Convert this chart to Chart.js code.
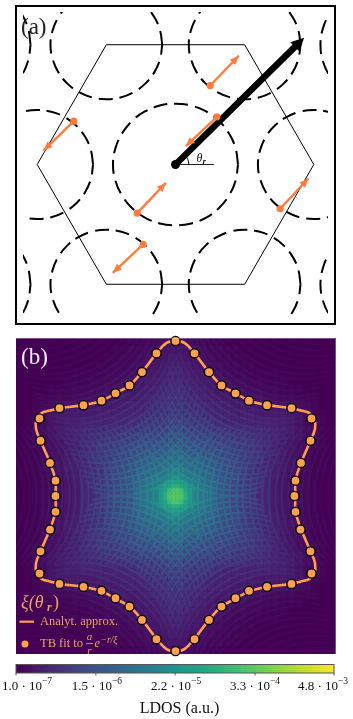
<!DOCTYPE html>
<html>
<head>
<meta charset="utf-8">
<title>LDOS</title>
<script src="https://cdn.jsdelivr.net/npm/chart.js@4/dist/chart.umd.js"></script>
<style>
html, body { margin: 0; padding: 0; background: #fff; }
body { width: 353px; height: 719px; position: relative; overflow: hidden; }
canvas { position: absolute; left: 0; }
#panelA { top: 0; }
#panelB { top: 330px; }
#colorbar { top: 660px; }
</style>
</head>
<body>
<canvas id="panelA" width="353" height="330"></canvas>
<canvas id="panelB" width="353" height="330"></canvas>
<canvas id="colorbar" width="353" height="59"></canvas>
<script>
// panel (a), units of the hexagon radius
const hexX = [-0.5, 0.5, 1, 0.5, -0.5, -1, -0.5];
const hexY = [0.866, 0.866, 0, -0.866, -0.866, 0, 0.866];
const kCentersX = [1, 0.5, -0.5, -1, -0.5, 0.5];
const kCentersY = [0, 0.866, 0.866, 0, -0.866, -0.866];
const gammaCentersX = [0, 1.5, -1.5, -1.5, 1.5];
const gammaCentersY = [0, 0.866, 0.866, -0.866, -0.866];
const ringAngles = [0, 15, 30, 45, 60, 75, 90, 105, 120, 135, 150, 165, 180, 195, 210, 225, 240, 255, 270, 285, 300, 315, 330, 345, 360];
const gammaRadius = [0.452, 0.450, 0.447, 0.445, 0.443, 0.441, 0.440, 0.441, 0.443, 0.445, 0.447, 0.450, 0.452, 0.450, 0.447, 0.445, 0.443, 0.441, 0.440, 0.441, 0.443, 0.445, 0.447, 0.450, 0.452];
const kRadius = [0.404, 0.402, 0.400, 0.398, 0.396, 0.395, 0.394, 0.395, 0.396, 0.398, 0.400, 0.402, 0.404, 0.402, 0.400, 0.398, 0.396, 0.395, 0.394, 0.395, 0.396, 0.398, 0.400, 0.402, 0.404];
const arrowTailX = [0.251, 0.299, -0.735, -0.277, 0.757, -0.234];
const arrowTailY = [0.571, 0.345, 0.313, -0.352, -0.320, -0.578];
const arrowTipX = [0.458, 0.075, -0.954, -0.070, 0.961, -0.453];
const arrowTipY = [0.786, 0.133, 0.101, -0.133, -0.101, -0.783];
const bigArrowX = [0, 0.885];
const bigArrowY = [0, 0.872];
const bigTip = [0.930, 0.916];
const angleLineX = [0, 0.277];
const angleLineY = [0, 0];
const angleArcDeg = [0, 11, 22, 33, 45];
const angleArcRadius = 0.096;

// panel (b), image pixels from the centre of the star
const curveX = [0, -9, -19, -33.5, -46, -60, -74, -92, -116, -125.5, -134, -139, -139.5, -135, -125.5, -120, -120,
  -120, -125.5, -135, -139.5, -139, -134, -125.5, -116, -92, -74, -60, -46, -33.5, -19, -9, 0,
  9, 19, 33.5, 46, 60, 74, 92, 116, 125.5, 134, 139, 139.5, 135, 125.5, 120, 120,
  120, 125.5, 135, 139.5, 139, 134, 125.5, 116, 92, 74, 60, 46, 33.5, 19, 9, 0];
const curveY = [157, 155, 144.5, 125.5, 112, 104, 96.5, 92, 89, 86.5, 84, 78, 68, 56, 33.5, 15.5, 0,
  -15.5, -33.5, -56, -68, -78, -84, -86.5, -89, -92, -96.5, -104, -112, -125.5, -144.5, -155, -157,
  -155, -144.5, -125.5, -112, -104, -96.5, -92, -89, -86.5, -84, -78, -68, -56, -33.5, -15.5, 0,
  15.5, 33.5, 56, 68, 78, 84, 86.5, 89, 92, 96.5, 104, 112, 125.5, 144.5, 155, 157];
const fitX = [0, -19, -33.5, -46, -60, -74, -92, -116, -136, -135, -125.5, -120, -120, -120, -125.5, -135, -136, -116, -92, -74, -60, -46, -33.5, -19, 0,
  19, 33.5, 46, 60, 73.5, 91.5, 116, 136, 135, 125, 120, 119, 120, 125.5, 135, 136, 116, 91.5, 73.5, 60, 46, 33.5, 19];
const fitY = [157, 144.5, 125.5, 112, 104, 96.5, 92, 89, 78.5, 56, 33.5, 15.5, 0, -16, -34, -56, -78.5, -89, -92, -96, -103.5, -112, -125.5, -145, -157,
  -145, -125.5, -112, -103.5, -96, -92, -89, -78.5, -56, -34, -16, 0, 15.5, 33.5, 56, 78.5, 89, 92, 96.5, 104, 112, 125.5, 144.5];

// LDOS colour level in percent of the colour bar, upper left quadrant, 8 px cells
const ldosQuadrant = [
  [0, 0, 0, 0, 0, 0, 0, 0, 0, 0, 0, 0, 0, 0, 1, 1, 2, 2, 3, 4],
  [0, 0, 0, 0, 0, 0, 0, 0, 0, 0, 0, 0, 1, 1, 2, 2, 3, 4, 5, 6],
  [0, 0, 0, 0, 0, 0, 0, 0, 0, 0, 0, 1, 1, 2, 2, 3, 4, 5, 6, 7],
  [0, 0, 0, 0, 0, 0, 0, 0, 0, 0, 1, 1, 2, 2, 3, 4, 5, 6, 7, 8],
  [0, 0, 0, 0, 0, 0, 0, 1, 1, 1, 1, 2, 2, 3, 4, 5, 6, 7, 8, 9],
  [0, 0, 0, 0, 0, 0, 1, 1, 1, 2, 2, 3, 3, 4, 5, 6, 7, 8, 9, 10],
  [0, 0, 0, 0, 1, 1, 1, 2, 2, 3, 3, 4, 4, 5, 6, 7, 8, 9, 10, 11],
  [0, 0, 1, 1, 1, 2, 2, 3, 3, 4, 4, 5, 6, 7, 7, 8, 9, 10, 11, 12],
  [0, 0, 1, 2, 3, 4, 5, 5, 6, 6, 6, 7, 7, 8, 9, 9, 10, 11, 12, 13],
  [0, 1, 1, 3, 5, 7, 7, 7, 7, 7, 8, 8, 8, 9, 10, 10, 11, 12, 13, 14],
  [0, 1, 2, 3, 5, 7, 8, 8, 9, 9, 9, 9, 10, 10, 11, 12, 13, 14, 15, 16],
  [0, 1, 2, 3, 5, 7, 8, 9, 10, 11, 11, 11, 12, 12, 13, 14, 15, 16, 17, 19],
  [0, 1, 2, 3, 5, 7, 8, 9, 11, 12, 13, 14, 14, 15, 16, 17, 18, 19, 20, 22],
  [0, 1, 2, 3, 4, 6, 7, 9, 11, 13, 15, 16, 17, 18, 19, 20, 21, 23, 24, 26],
  [0, 1, 1, 2, 4, 5, 7, 9, 11, 13, 15, 17, 18, 20, 21, 23, 24, 26, 28, 30],
  [0, 1, 1, 2, 3, 5, 7, 9, 10, 13, 15, 17, 19, 21, 23, 25, 27, 30, 32, 34],
  [0, 1, 1, 2, 3, 5, 7, 8, 10, 12, 14, 17, 20, 22, 25, 27, 30, 33, 36, 38],
  [0, 0, 1, 2, 3, 4, 6, 8, 10, 12, 14, 17, 20, 23, 26, 29, 32, 36, 38, 40],
  [0, 0, 1, 2, 3, 4, 6, 7, 10, 12, 14, 17, 20, 23, 26, 30, 34, 38, 40, 42],
  [0, 0, 1, 2, 3, 4, 6, 7, 10, 11, 14, 17, 20, 23, 26, 30, 34, 38, 40, 42]
];
const cellSize = 8;
// finer read of the bright core, 4 px cells, same quadrant
const ldosCore = [
  [26, 27, 28, 29, 30, 30, 31, 32, 33, 34],
  [27, 28, 29, 30, 31, 32, 32, 33, 34, 36],
  [28, 29, 30, 31, 32, 33, 34, 35, 36, 38],
  [29, 30, 31, 32, 34, 35, 36, 37, 38, 40],
  [30, 31, 32, 34, 35, 37, 38, 40, 41, 44],
  [31, 32, 33, 35, 37, 39, 41, 43, 46, 50],
  [32, 33, 35, 37, 39, 41, 44, 48, 52, 56],
  [32, 34, 36, 38, 41, 44, 50, 56, 58, 62],
  [33, 35, 37, 39, 42, 46, 52, 58, 68, 72],
  [33, 35, 37, 40, 43, 46, 54, 62, 72, 74]
];
const coreCellSize = 4;
// ripple arcs: distance of each arc from the centre, and the shape one arc has
const fringeStart = [16, 22, 28, 35, 41, 48, 54, 61, 67, 74, 80, 87, 93, 100, 106, 113, 119, 126, 132, 139, 145, 152, 158, 165, 172, 179, 186, 193];
const fringeAlong = [-70, -56, -42, -28, -14, 0, 14, 28, 42, 56, 70];
const fringeBow = [29, 17, 9, 4, 1, 0, 1, 4, 9, 17, 29];
const fringeAngles = [0, 60, 120, 180, 240, 300];
const stripeX = [-7, -3.5, 0, 3.5, 7];
const stripeEnd = 157;

// colour bar
const viridisStops = ['#440154', '#482475', '#414487', '#355f8d', '#2a788e', '#21918c', '#22a884', '#44bf70', '#7ad151', '#bddf26', '#fde725'];
const cbarTicks = [1e-7, 1.5e-6, 2.2e-5, 3.3e-4, 4.8e-3];
const cbarMantissa = ['1.0', '1.5', '2.2', '3.3', '4.8'];
const cbarExponent = ['\u22127', '\u22126', '\u22125', '\u22124', '\u22123'];
const cbarLabelShift = [11, 1, 1, 0, -11];

const SERIF = '"Liberation Serif", "DejaVu Serif", serif';
const ORANGE = '#ff7b3d';
const CURVE_ORANGE = '#ffa04f';
const LEGEND_ORANGE = '#eca263';

function zip(xs, ys) {
  return xs.map((x, i) => ({ x: x, y: ys[i] }));
}

function ring(cx, cy, radii) {
  return ringAngles.map((deg, i) => ({
    x: cx + radii[i] * Math.cos(deg * Math.PI / 180),
    y: cy + radii[i] * Math.sin(deg * Math.PI / 180)
  }));
}

function hexToRgb(hex) {
  return [1, 3, 5].map(i => parseInt(hex.substr(i, 2), 16));
}

function viridis(percent) {
  const pos = Math.min(percent, 100) / 100 * (viridisStops.length - 1);
  const i = Math.min(Math.floor(pos), viridisStops.length - 2);
  const a = hexToRgb(viridisStops[i]);
  const b = hexToRgb(viridisStops[i + 1]);
  const c = a.map((v, k) => Math.round(v + (b[k] - v) * (pos - i)));
  return `rgb(${c[0]},${c[1]},${c[2]})`;
}

function label(ctx, str, x, y, font, color, align) {
  ctx.font = font;
  ctx.fillStyle = color;
  ctx.textAlign = align || 'left';
  ctx.textBaseline = 'alphabetic';
  ctx.fillText(str, x, y);
}

function arrowHead(ctx, x0, y0, x1, y1, len, half, color) {
  const a = Math.atan2(y1 - y0, x1 - x0);
  ctx.fillStyle = color;
  ctx.beginPath();
  ctx.moveTo(x1, y1);
  ctx.lineTo(x1 - len * Math.cos(a) - half * Math.sin(a), y1 - len * Math.sin(a) + half * Math.cos(a));
  ctx.lineTo(x1 - len * Math.cos(a) + half * Math.sin(a), y1 - len * Math.sin(a) - half * Math.cos(a));
  ctx.closePath();
  ctx.fill();
}

const hiddenAxes = (xMin, xMax, yMin, yMax) => ({
  x: { type: 'linear', display: false, min: xMin, max: xMax },
  y: { type: 'linear', display: false, min: yMin, max: yMax }
});

// ---------- panel (a), first dataset is painted last
const panelADatasets = [];
panelADatasets.push({ data: zip(arrowTailX, arrowTailY), pointRadius: 3.6, pointBackgroundColor: ORANGE, pointBorderWidth: 0 });
arrowTailX.forEach((x, i) => {
  panelADatasets.push({ data: [{ x: x, y: arrowTailY[i] }, { x: arrowTipX[i], y: arrowTipY[i] }], showLine: true,
    pointRadius: 0, borderColor: ORANGE, borderWidth: 2.4 });
});
panelADatasets.push({ data: [{ x: 0, y: 0 }], pointRadius: 4.5, pointBackgroundColor: '#000', pointBorderWidth: 0 });
panelADatasets.push({ data: zip(bigArrowX, bigArrowY), showLine: true, pointRadius: 0, borderColor: '#000', borderWidth: 6.5, borderCapStyle: 'round' });
panelADatasets.push({
  data: angleArcDeg.map(deg => ({ x: angleArcRadius * Math.cos(deg * Math.PI / 180), y: angleArcRadius * Math.sin(deg * Math.PI / 180) })),
  showLine: true, tension: 0.4, pointRadius: 0, borderColor: '#000', borderWidth: 1
});
panelADatasets.push({ data: zip(angleLineX, angleLineY), showLine: true, pointRadius: 0, borderColor: '#222', borderWidth: 1 });
panelADatasets.push({ data: zip(hexX, hexY), showLine: true, pointRadius: 0, borderColor: '#000', borderWidth: 1 });
kCentersX.forEach((cx, i) => {
  panelADatasets.push({ data: ring(cx, kCentersY[i], kRadius), showLine: true, tension: 0.4, pointRadius: 0,
    borderColor: '#000', borderWidth: 2, borderDash: [14, 7], capBezierPoints: false });
});
gammaCentersX.forEach((cx, i) => {
  panelADatasets.push({ data: ring(cx, gammaCentersY[i], gammaRadius), showLine: true, tension: 0.4, pointRadius: 0,
    borderColor: '#000', borderWidth: 2, borderDash: [14, 7], capBezierPoints: false });
});

const panelAExtras = {
  id: 'panelAExtras',
  beforeDraw(chart) {
    const ctx = chart.ctx;
    ctx.save();
    ctx.strokeStyle = '#000';
    ctx.lineWidth = 2;
    ctx.strokeRect(16, 6, 319, 318);
    ctx.restore();
  },
  afterDatasetsDraw(chart) {
    const ctx = chart.ctx;
    const sx = chart.scales.x;
    const sy = chart.scales.y;
    ctx.save();
    arrowTailX.forEach((x, i) => {
      arrowHead(ctx, sx.getPixelForValue(x), sy.getPixelForValue(arrowTailY[i]),
        sx.getPixelForValue(arrowTipX[i]), sy.getPixelForValue(arrowTipY[i]), 9, 3.8, ORANGE);
    });
    arrowHead(ctx, sx.getPixelForValue(bigArrowX[0]), sy.getPixelForValue(bigArrowY[0]),
      sx.getPixelForValue(bigTip[0]), sy.getPixelForValue(bigTip[1]), 13, 6.5, '#000');
    label(ctx, '(a)', 21, 34, '23px ' + SERIF, '#222');
    label(ctx, '\u03b8', 196.5, 162, 'italic 12px ' + SERIF, '#111');
    label(ctx, 'r', 202.5, 164, 'italic bold 9px ' + SERIF, '#111');
    ctx.restore();
  }
};

new Chart(document.getElementById('panelA'), {
  type: 'scatter',
  data: { datasets: panelADatasets },
  options: {
    responsive: false,
    animation: false,
    events: [],
    layout: { padding: { left: 23, right: 25, top: 12, bottom: 13 } },
    scales: hiddenAxes(-1.1026, 1.1026, -1.1026, 1.1026),
    plugins: { legend: { display: false }, tooltip: { enabled: false } }
  },
  plugins: [panelAExtras]
});

// ---------- panel (b)
function heatDataset(matrix, size) {
  const cells = [];
  const colors = [];
  matrix.forEach((row, r) => {
    row.forEach((level, c) => {
      const x = (c - row.length + 0.5) * size;
      const y = (matrix.length - r - 0.5) * size;
      [[x, y], [-x, y], [x, -y], [-x, -y]].forEach(p => {
        cells.push({ x: p[0], y: p[1] });
        colors.push(viridis(level));
      });
    });
  });
  return { data: cells, pointStyle: 'rect', pointRadius: (size + 0.4) / 2 * Math.SQRT2, pointBorderWidth: 0, pointBackgroundColor: colors };
}

// each arc family points at one notch of the star, a gap in the data splits the arcs
const fringePoints = [];
fringeAngles.forEach(deg => {
  const cos = Math.cos(deg * Math.PI / 180);
  const sin = Math.sin(deg * Math.PI / 180);
  fringeStart.forEach(start => {
    fringeAlong.forEach((v, i) => {
      const u = start + fringeBow[i];
      fringePoints.push({ x: u * cos - v * sin, y: u * sin + v * cos });
    });
    fringePoints.push({ x: NaN, y: NaN });
  });
});

const stripePoints = [];
stripeX.forEach(x => {
  stripePoints.push({ x: x, y: -stripeEnd }, { x: x, y: stripeEnd }, { x: NaN, y: NaN });
});

function fadeFromCentre(context) {
  const chart = context.chart;
  if (!chart.chartArea) return 'rgba(0,0,0,0)';
  const cx = chart.scales.x.getPixelForValue(0);
  const cy = chart.scales.y.getPixelForValue(0);
  const g = chart.ctx.createRadialGradient(cx, cy, 0, cx, cy, 210);
  g.addColorStop(0, 'rgba(70,190,115,0.6)');
  g.addColorStop(0.1, 'rgba(35,150,135,0.6)');
  g.addColorStop(0.28, 'rgba(42,120,142,0.5)');
  g.addColorStop(0.48, 'rgba(55,90,140,0.25)');
  g.addColorStop(0.67, 'rgba(65,68,135,0.1)');
  g.addColorStop(1, 'rgba(72,36,117,0.05)');
  return g;
}

const panelBExtras = {
  id: 'panelBExtras',
  beforeDatasetsDraw(chart) {
    const a = chart.chartArea;
    chart.ctx.save();
    chart.ctx.fillStyle = viridisStops[0];
    chart.ctx.fillRect(a.left, a.top, a.right - a.left, a.bottom - a.top);
    chart.ctx.restore();
  },
  afterDatasetsDraw(chart) {
    const ctx = chart.ctx;
    const a = chart.chartArea;
    ctx.save();
    ctx.strokeStyle = 'rgba(255,255,255,0.3)';
    ctx.lineWidth = 1;
    ctx.beginPath();
    ctx.moveTo(a.left, a.top + 0.5);
    ctx.lineTo(a.right - 0.5, a.top + 0.5);
    ctx.lineTo(a.right - 0.5, a.bottom);
    ctx.stroke();

    label(ctx, '(b)', 21, 33.5, '23px ' + SERIF, '#f2edf5');
    label(ctx, '\u03be(\u03b8', 21, 278, 'italic 18px ' + SERIF, LEGEND_ORANGE);
    label(ctx, 'r', 47, 281, 'italic bold 12px ' + SERIF, LEGEND_ORANGE);
    label(ctx, ')', 53, 278, '18px ' + SERIF, LEGEND_ORANGE);

    ctx.strokeStyle = CURVE_ORANGE;
    ctx.lineWidth = 2.2;
    ctx.beginPath();
    ctx.moveTo(19.5, 291.7);
    ctx.lineTo(34, 291.7);
    ctx.stroke();
    label(ctx, 'Analyt. approx.', 40, 295, '12.5px ' + SERIF, LEGEND_ORANGE);

    ctx.fillStyle = CURVE_ORANGE;
    ctx.beginPath();
    ctx.arc(25, 314, 3.5, 0, Math.PI * 2);
    ctx.fill();
    label(ctx, 'TB fit to', 40, 317, '12.5px ' + SERIF, LEGEND_ORANGE);
    label(ctx, 'a', 89.5, 310, 'italic 11px ' + SERIF, LEGEND_ORANGE, 'center');
    ctx.strokeStyle = LEGEND_ORANGE;
    ctx.lineWidth = 0.8;
    ctx.beginPath();
    ctx.moveTo(86, 313.5);
    ctx.lineTo(93, 313.5);
    ctx.stroke();
    label(ctx, 'r', 89.5, 324, 'italic 11px ' + SERIF, LEGEND_ORANGE, 'center');
    label(ctx, 'e', 94.5, 317, 'italic 12.5px ' + SERIF, LEGEND_ORANGE);
    label(ctx, '\u2212r/\u03be', 100.5, 312.5, 'italic 9.5px ' + SERIF, LEGEND_ORANGE);
    ctx.restore();
  }
};

new Chart(document.getElementById('panelB'), {
  type: 'scatter',
  data: {
    datasets: [
      { data: zip(fitX, fitY), pointRadius: 4.6, pointBackgroundColor: CURVE_ORANGE, pointBorderColor: '#000', pointBorderWidth: 1.4, clip: false },
      { data: zip(curveX, curveY), showLine: true, tension: 0.4, pointRadius: 0, borderColor: CURVE_ORANGE, borderWidth: 2.6, capBezierPoints: false, clip: false },
      { data: stripePoints, showLine: true, pointRadius: 0, borderColor: fadeFromCentre, borderWidth: 1.5, borderDash: [3, 3], spanGaps: false },
      { data: fringePoints, showLine: true, tension: 0.3, pointRadius: 0, borderColor: fadeFromCentre, borderWidth: 1.8, spanGaps: false, capBezierPoints: false },
      heatDataset(ldosCore, coreCellSize),
      heatDataset(ldosQuadrant, cellSize)
    ]
  },
  options: {
    responsive: false,
    animation: false,
    events: [],
    layout: { padding: { left: 16, right: 17, top: 8, bottom: 2 } },
    scales: hiddenAxes(-159.5, 160.5, -160, 160),
    plugins: { legend: { display: false }, tooltip: { enabled: false } }
  },
  plugins: [panelBExtras]
});

// ---------- colour bar
const colorbarExtras = {
  id: 'colorbarExtras',
  afterDatasetsDraw(chart) {
    const ctx = chart.ctx;
    const a = chart.chartArea;
    const sx = chart.scales.x;
    ctx.save();
    ctx.strokeStyle = '#555';
    ctx.lineWidth = 1;
    ctx.strokeRect(a.left, a.top, a.right - a.left, a.bottom - a.top);
    cbarTicks.forEach((tick, i) => {
      const px = sx.getPixelForValue(tick);
      ctx.beginPath();
      ctx.moveTo(px, a.bottom);
      ctx.lineTo(px, a.bottom + 2.5);
      ctx.stroke();
      const text = cbarMantissa[i] + ' \u00b7 10';
      ctx.font = '13px ' + SERIF;
      const w = ctx.measureText(text).width;
      ctx.font = '9.5px ' + SERIF;
      const total = w + ctx.measureText(cbarExponent[i]).width;
      const left = px + cbarLabelShift[i] - total / 2;
      label(ctx, text, left, 29.5, '13px ' + SERIF, '#111');
      label(ctx, cbarExponent[i], left + w, 24, '9.5px ' + SERIF, '#111');
    });
    label(ctx, 'LDOS (a.u.)', 179.5, 53, '16px ' + SERIF, '#111', 'center');
    ctx.restore();
  }
};

new Chart(document.getElementById('colorbar'), {
  type: 'bar',
  data: {
    labels: ['LDOS'],
    datasets: [{
      data: [[cbarTicks[0], cbarTicks[cbarTicks.length - 1]]],
      barPercentage: 1,
      categoryPercentage: 1,
      borderWidth: 0,
      borderSkipped: false,
      backgroundColor(context) {
        const area = context.chart.chartArea;
        if (!area) return viridisStops[0];
        const g = context.chart.ctx.createLinearGradient(area.left, 0, area.right, 0);
        viridisStops.forEach((c, i) => g.addColorStop(i / (viridisStops.length - 1), c));
        return g;
      }
    }]
  },
  options: {
    indexAxis: 'y',
    responsive: false,
    animation: false,
    events: [],
    layout: { padding: { left: 16, right: 19, top: 4.5, bottom: 46 } },
    scales: {
      x: { type: 'logarithmic', display: false, min: cbarTicks[0], max: cbarTicks[cbarTicks.length - 1] },
      y: { type: 'category', display: false }
    },
    plugins: { legend: { display: false }, tooltip: { enabled: false } }
  },
  plugins: [colorbarExtras]
});
</script>
</body>
</html>
